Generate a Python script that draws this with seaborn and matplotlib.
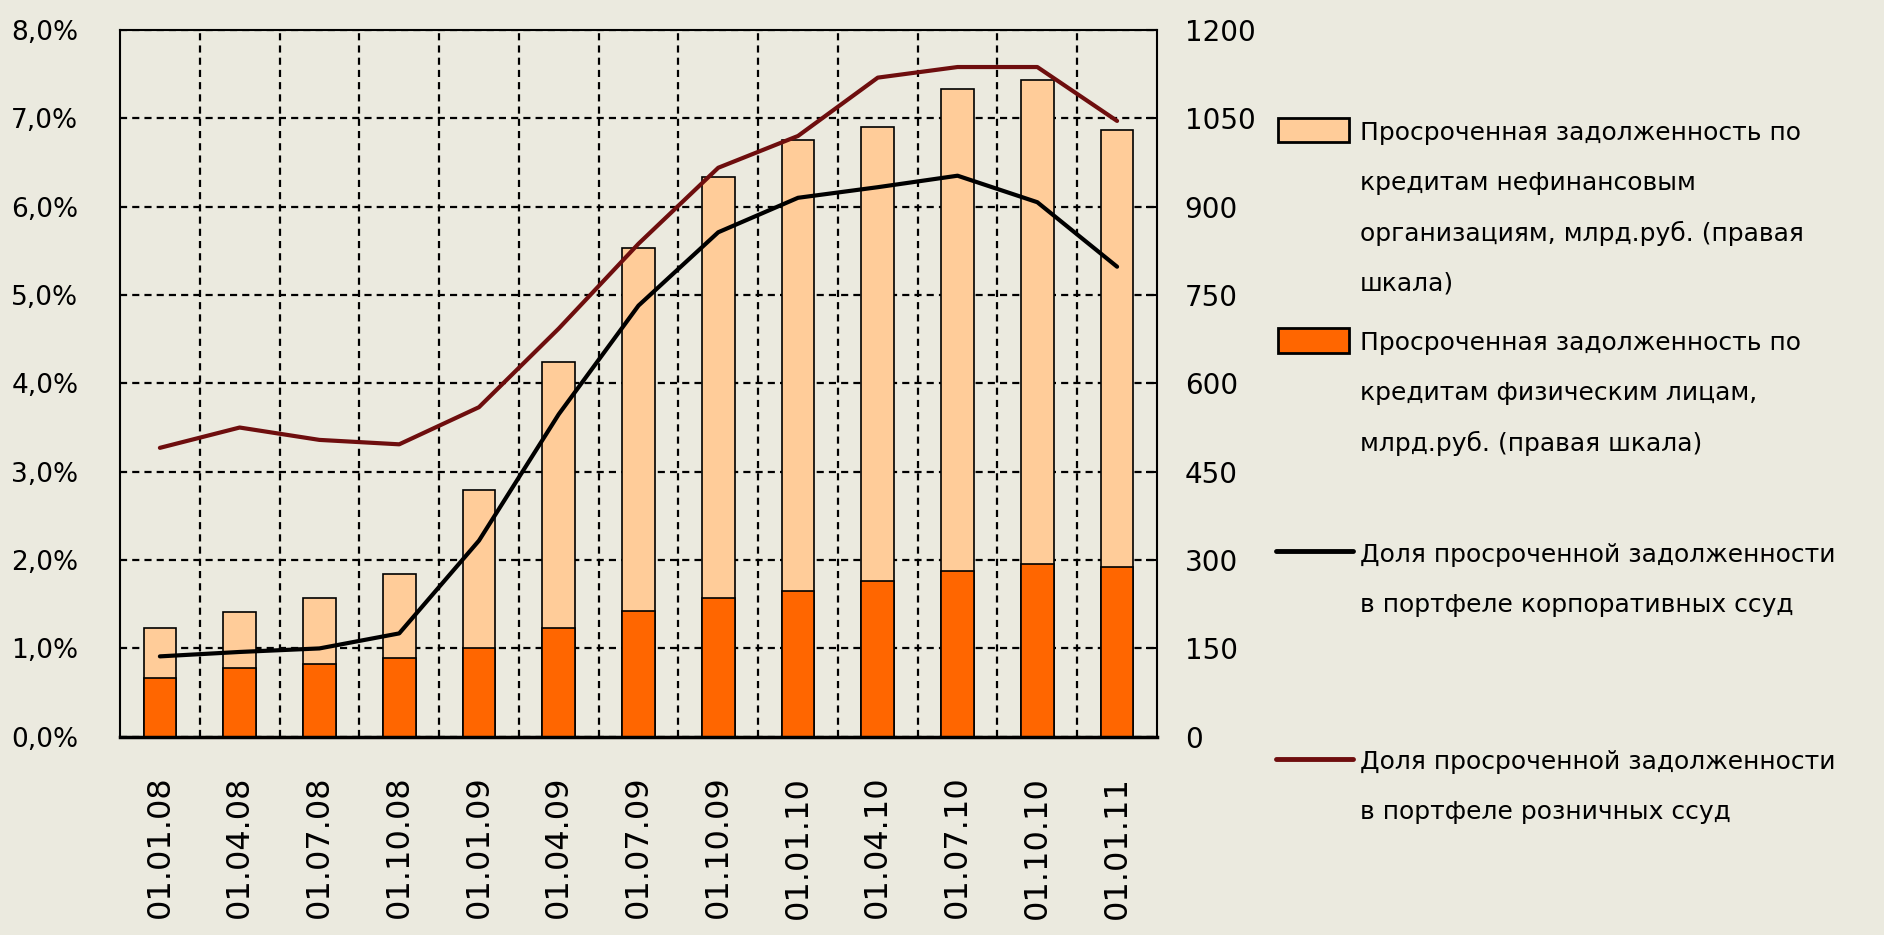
import numpy as np
import pandas as pd
import matplotlib
matplotlib.use("Agg")
import matplotlib.pyplot as plt
from matplotlib.patches import Rectangle
from matplotlib.lines import Line2D
import seaborn as sns

# ---- data ----
dates = ["01.01.08", "01.04.08", "01.07.08", "01.10.08", "01.01.09", "01.04.09",
         "01.07.09", "01.10.09", "01.01.10", "01.04.10", "01.07.10", "01.10.10", "01.01.11"]
overdue_individuals = [99, 116, 123, 133, 150, 185, 214, 236, 248, 265, 281, 293, 288]
overdue_nonfin_orgs = [86, 96, 113, 143, 269, 452, 616, 715, 765, 770, 818, 822, 742]
share_corporate = [0.91, 0.96, 1.00, 1.17, 2.22, 3.65, 4.88, 5.71, 6.10, 6.22, 6.35, 6.05, 5.32]
share_retail = [3.27, 3.50, 3.36, 3.31, 3.73, 4.62, 5.58, 6.44, 6.80, 7.46, 7.58, 7.58, 6.97]
right_ticks = [0, 150, 300, 450, 600, 750, 900, 1050, 1200]
left_ticks = [0, 1, 2, 3, 4, 5, 6, 7, 8]
left_labels = ["0,0%", "1,0%", "2,0%", "3,0%", "4,0%", "5,0%", "6,0%", "7,0%", "8,0%"]
legend_texts = [
    ["Просроченная задолженность по", "кредитам нефинансовым", "организациям, млрд.руб. (правая", "шкала)"],
    ["Просроченная задолженность по", "кредитам физическим лицам,", "млрд.руб. (правая шкала)"],
    ["Доля просроченной задолженности", "в портфеле корпоративных ссуд"],
    ["Доля просроченной задолженности", "в портфеле розничных ссуд"],
]

BG = "#EBEADF"
LIGHT = "#FFCC99"
DARK = "#FF6600"
MAROON = "#6E0E0E"

sns.set_style("white")
plt.rcParams["font.family"] = ["DejaVu Sans"]
plt.rcParams["text.color"] = "black"
plt.rcParams["xtick.color"] = "black"
plt.rcParams["ytick.color"] = "black"

df = pd.DataFrame({
    "date": dates,
    "ind": overdue_individuals,
    "total": np.array(overdue_individuals) + np.array(overdue_nonfin_orgs),
    "corp": share_corporate,
    "retail": share_retail,
    "pos": np.arange(len(dates)),
})

fig = plt.figure(figsize=(18.84, 9.35), dpi=100, facecolor=BG)
ax = fig.add_axes([0.0637, 0.212, 0.5504, 0.756])
ax.set_facecolor(BG)

sns.barplot(data=df, x="date", y="total", order=dates, color=LIGHT, width=0.41,
            edgecolor="black", linewidth=1.2, saturation=1, errorbar=None, ax=ax)
sns.barplot(data=df, x="date", y="ind", order=dates, color=DARK, width=0.41,
            edgecolor="black", linewidth=1.2, saturation=1, errorbar=None, ax=ax)

ax2 = ax.twinx()
ax2.patch.set_visible(False)
sns.lineplot(data=df, x="pos", y="corp", color="black", linewidth=3.0, ax=ax2)
sns.lineplot(data=df, x="pos", y="retail", color=MAROON, linewidth=3.0, ax=ax2)

# bar axis -> right side
ax.set_xlim(-0.5, len(dates) - 0.5)
ax.set_ylim(0, 1200)
ax.set_yticks(right_ticks)
ax.set_yticklabels([str(t) for t in right_ticks], fontsize=20)
ax.yaxis.tick_right()
ax.yaxis.set_label_position("right")
ax.tick_params(axis="y", direction="in", length=8, width=1.5, pad=20)
ax.set_xticks(np.arange(len(dates)))
ax.set_xticklabels(dates, rotation=90, fontsize=23, va="top")
ax.tick_params(axis="x", which="major", length=0, pad=28)
ax.set_xticks(np.arange(len(dates) - 1) + 0.5, minor=True)
ax.tick_params(axis="x", which="minor", length=0)
ax.set_xlabel("")
ax.set_ylabel("")
ax.set_axisbelow(True)
dash = (0, (3.2, 2.3))
ax.grid(axis="y", which="major", color="black", linestyle=dash, linewidth=1.6)
ax.grid(axis="x", which="minor", color="black", linestyle=dash, linewidth=1.6)
ax.grid(axis="x", which="major", visible=False)
for s in ["left", "right", "top"]:
    ax.spines[s].set_color("black")
    ax.spines[s].set_linewidth(1.5)
    ax.spines[s].set_visible(True)
ax.spines["bottom"].set_color("black")
ax.spines["bottom"].set_linewidth(2.5)
ax.spines["bottom"].set_visible(True)

# line axis -> left side
ax2.set_ylim(0, 8)
ax2.set_yticks(left_ticks)
ax2.set_yticklabels(left_labels, fontsize=19)
ax2.yaxis.tick_left()
ax2.yaxis.set_label_position("left")
ax2.tick_params(axis="y", length=0, pad=30)
ax2.set_xlim(-0.5, len(dates) - 0.5)
ax2.set_xlabel("")
ax2.set_ylabel("")
ax2.grid(False)
for s in ax2.spines.values():
    s.set_visible(False)

# ---- legend (manual) ----
W, H = 1884.0, 935.0
def fx(px):
    return px / W
def fy(py):
    return 1 - py / H

fig.add_artist(Rectangle((fx(1278), fy(142)), fx(1349) - fx(1278), fy(118) - fy(142),
                         facecolor=LIGHT, edgecolor="black", linewidth=2, transform=fig.transFigure))
fig.add_artist(Rectangle((fx(1278), fy(353)), fx(1349) - fx(1278), fy(328) - fy(353),
                         facecolor=DARK, edgecolor="black", linewidth=2, transform=fig.transFigure))
fig.add_artist(Line2D([fx(1276), fx(1353)], [fy(551), fy(551)], color="black", linewidth=3.5,
                      transform=fig.transFigure))
fig.add_artist(Line2D([fx(1276), fx(1353)], [fy(759), fy(759)], color=MAROON, linewidth=3.5,
                      transform=fig.transFigure))

first_line_y = [133, 343, 555, 762]
for lines, y0 in zip(legend_texts, first_line_y):
    for k, line in enumerate(lines):
        fig.text(fx(1360), fy(y0 + k * 50), line, fontsize=18, ha="left", va="center")

fig.savefig("out.png", dpi=100, facecolor=BG)
